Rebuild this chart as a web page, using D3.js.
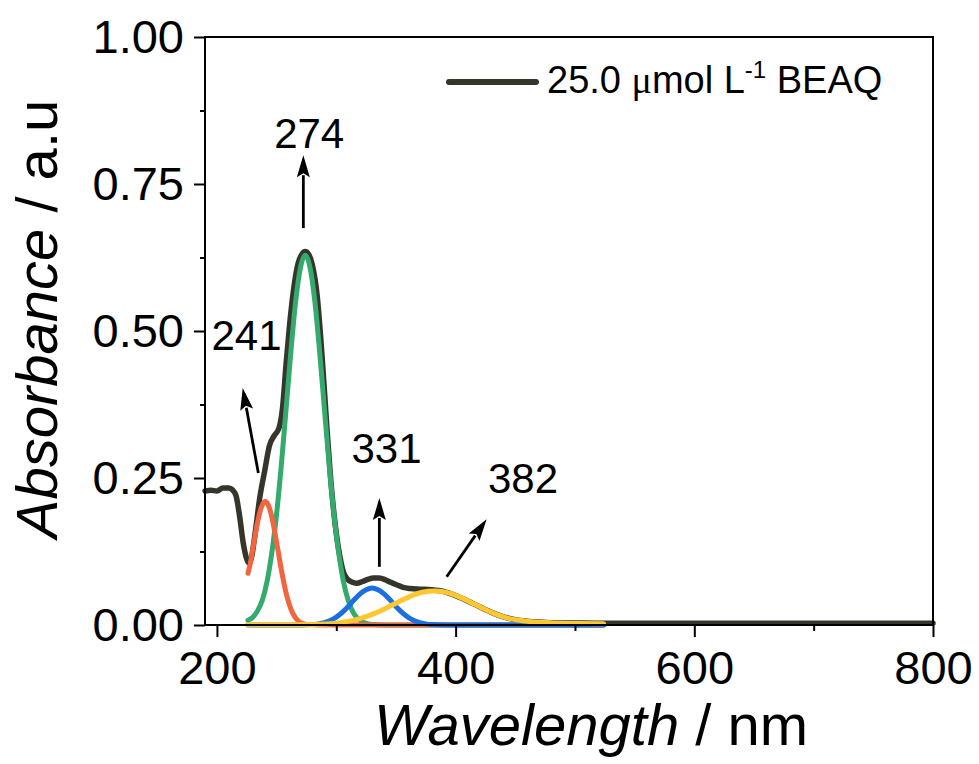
<!DOCTYPE html>
<html>
<head>
<meta charset="utf-8">
<script src="https://cdn.jsdelivr.net/npm/d3@7"></script>
<style>
  html, body { margin: 0; padding: 0; background: #fff; }
  svg { display: block; font-family: "Liberation Sans", Arial, sans-serif; }
</style>
</head>
<body>
<svg id="chart" width="979" height="764"></svg>
<script>
// Measured UV-Vis spectrum of BEAQ: [wavelength nm, absorbance]
const spectrum = [
  [190, 0.228], [195, 0.229], [200, 0.228], [205, 0.233], [210, 0.233],
  [213, 0.230], [216, 0.220], [219, 0.185], [222, 0.140], [225, 0.112],
  [227, 0.105], [229, 0.115], [232, 0.156], [236, 0.218], [240, 0.262],
  [244, 0.305], [248, 0.322], [252, 0.335], [255, 0.370], [258, 0.445],
  [261, 0.513], [265, 0.582], [268, 0.615], [271, 0.630], [274, 0.635],
  [277, 0.630], [280, 0.612], [284, 0.560], [288, 0.460], [292, 0.340],
  [296, 0.232], [300, 0.156], [303, 0.117], [306, 0.090], [309, 0.079],
  [313, 0.073], [317, 0.071], [322, 0.074], [327, 0.078], [331, 0.080],
  [336, 0.080], [341, 0.077], [345, 0.073], [350, 0.069], [356, 0.064],
  [362, 0.062], [370, 0.061], [380, 0.060], [390, 0.057], [400, 0.050],
  [410, 0.041], [420, 0.031], [430, 0.0215], [440, 0.014], [450, 0.009],
  [460, 0.0065], [470, 0.005], [480, 0.004], [500, 0.0035], [525, 0.003],
  [600, 0.003], [700, 0.003], [800, 0.003]
];

// Fitted band at 241 nm
const band241 = [
  [226, 0.088], [228, 0.105], [230, 0.129], [232, 0.152], [234, 0.174],
  [236, 0.192], [238, 0.204], [240.5, 0.210], [243, 0.204], [245, 0.192],
  [247, 0.174], [249, 0.152], [251, 0.129], [253, 0.105], [255, 0.083],
  [257, 0.063], [259, 0.046], [262, 0.027], [265, 0.0146], [268, 0.0073],
  [272, 0.0026], [276, 0.0008], [285, 0.0001], [524, 0.0]
];

// Fitted band at 274 nm
const band274 = [
  [226, 0.008], [230, 0.013], [234, 0.024], [238, 0.042], [242, 0.074],
  [246, 0.123], [250, 0.189], [254, 0.273], [258, 0.369], [262, 0.466],
  [266, 0.551], [270, 0.608], [274, 0.629], [278, 0.608], [282, 0.551],
  [286, 0.466], [290, 0.369], [294, 0.273], [298, 0.189], [302, 0.123],
  [306, 0.074], [310, 0.042], [314, 0.022], [318, 0.011], [322, 0.0052],
  [326, 0.0023], [330, 0.001], [340, 0.0002], [524, 0.0]
];

// Fitted band at 331 nm
const band331 = [
  [226, 0.0], [270, 0.0002], [280, 0.0008], [285, 0.0019], [290, 0.0039],
  [295, 0.0076], [300, 0.0133], [305, 0.0214], [310, 0.0315], [315, 0.043],
  [320, 0.053], [325, 0.060], [330, 0.063], [335, 0.060], [340, 0.053],
  [345, 0.043], [350, 0.0315], [355, 0.0214], [360, 0.0133], [365, 0.0076],
  [370, 0.0039], [375, 0.0019], [380, 0.0008], [390, 0.0002], [524, 0.0]
];

// Fitted band at 382 nm
const band382 = [
  [226, 0.0005], [262, 0.0005], [282, 0.0008], [292, 0.0017], [302, 0.0036],
  [312, 0.007], [322, 0.0122], [332, 0.0197], [342, 0.029], [352, 0.0393],
  [362, 0.0488], [372, 0.0556], [382, 0.058], [392, 0.0556], [402, 0.0488],
  [412, 0.0393], [422, 0.029], [432, 0.0197], [442, 0.0125], [452, 0.0085],
  [462, 0.006], [472, 0.0045], [482, 0.0035], [502, 0.0025], [524, 0.002]
];

const xMajorTicks = [200, 400, 600, 800];
const xMinorTicks = [300, 500, 700];
const yMajorTicks = [0, 0.25, 0.5, 0.75, 1.0];
const yMinorTicks = [0.125, 0.375, 0.625, 0.875];

const peakLabels = ["241", "274", "331", "382"];

// ---- layout ----
const svg = d3.select("#chart");
const margin = { left: 205, top: 37, right: 46, bottom: 139 };
const W = 979, H = 764;
const innerW = W - margin.left - margin.right;
const innerH = H - margin.top - margin.bottom;

const x = d3.scaleLinear().domain([190, 800]).range([0, innerW]);
const y = d3.scaleLinear().domain([0, 1]).range([innerH, 0]);

const g = svg.append("g").attr("transform", `translate(${margin.left},${margin.top})`);

const colors = {
  spectrum: "#35352c",
  b241: "#f2653f",
  b274: "#34aa6c",
  b331: "#1c6fe2",
  b382: "#fdc72f"
};

const line = d3.line()
  .x(d => x(d[0]))
  .y(d => y(d[1]))
  .curve(d3.curveMonotoneX);

// ---- curves ----
g.append("path").datum(spectrum)
  .attr("d", line).attr("fill", "none")
  .attr("stroke", colors.spectrum).attr("stroke-width", 5.5)
  .attr("stroke-linejoin", "round").attr("stroke-linecap", "round");

[[band274, colors.b274], [band241, colors.b241], [band331, colors.b331], [band382, colors.b382]]
  .forEach(([data, c]) => {
    g.append("path").datum(data)
      .attr("d", line).attr("fill", "none")
      .attr("stroke", c).attr("stroke-width", 5)
      .attr("stroke-linejoin", "round").attr("stroke-linecap", "round");
  });

// ---- axes ----
const tickFont = 47;
const axisStroke = 2;

function styleAxis(sel) {
  sel.select(".domain").remove();
  sel.selectAll(".tick line").attr("stroke", "#000").attr("stroke-width", axisStroke);
  sel.selectAll(".tick text")
    .attr("fill", "#000")
    .style("font-size", tickFont + "px")
    .style("font-family", "'Liberation Sans', Arial, sans-serif");
}

const xAxis = g.append("g").attr("transform", `translate(0,${innerH})`)
  .call(d3.axisBottom(x).tickValues(xMajorTicks).tickSize(12).tickPadding(14).tickFormat(d3.format("d")));
styleAxis(xAxis);

g.append("g").attr("transform", `translate(0,${innerH})`)
  .call(d3.axisBottom(x).tickValues(xMinorTicks).tickSize(6).tickFormat(""))
  .call(s => { s.select(".domain").remove(); s.selectAll(".tick line").attr("stroke", "#000").attr("stroke-width", axisStroke); });

const yAxis = g.append("g")
  .call(d3.axisLeft(y).tickValues(yMajorTicks).tickSize(11).tickPadding(10).tickFormat(d3.format(".2f")));
styleAxis(yAxis);

g.append("g")
  .call(d3.axisLeft(y).tickValues(yMinorTicks).tickSize(5).tickFormat(""))
  .call(s => { s.select(".domain").remove(); s.selectAll(".tick line").attr("stroke", "#000").attr("stroke-width", axisStroke); });

// frame
g.append("rect")
  .attr("x", 0).attr("y", 0).attr("width", innerW).attr("height", innerH)
  .attr("fill", "none").attr("stroke", "#000").attr("stroke-width", axisStroke);

// ---- axis titles ----
const titleFont = 58;
const xt = svg.append("text")
  .attr("x", 591)
  .attr("y", 745)
  .attr("text-anchor", "middle")
  .style("font-size", titleFont + "px")
  .attr("fill", "#000");
xt.append("tspan").style("font-style", "italic").text("Wavelength");
xt.append("tspan").text(" / nm");

const yt = svg.append("text")
  .attr("transform", `translate(57,319) rotate(-90)`)
  .attr("text-anchor", "middle")
  .style("font-size", titleFont + "px")
  .attr("fill", "#000");
yt.append("tspan").style("font-style", "italic").text("Absorbance");
yt.append("tspan").text(" / a.u");

// ---- legend ----
const legendG = svg.append("g");
legendG.append("line")
  .attr("x1", 449).attr("x2", 536).attr("y1", 82).attr("y2", 82)
  .attr("stroke", colors.spectrum).attr("stroke-width", 6).attr("stroke-linecap", "round");
const lt = legendG.append("text")
  .attr("x", 547).attr("y", 93)
  .style("font-size", "38px").attr("fill", "#000");
lt.append("tspan").text("25.0 ");
lt.append("tspan").style("font-family", "'Liberation Serif', 'Times New Roman', serif").text("\u03BC");
lt.append("tspan").text("mol L");
lt.append("tspan").attr("dy", -15).style("font-size", "24px").text("-1");
lt.append("tspan").attr("dy", 15).text(" BEAQ");

// ---- peak annotations (positions in data units) ----
const annotations = [
  { label: peakLabels[0], lx: 224.8, ly: 0.468, from: [234.7, 0.2585], to: [221.6, 0.403] },
  { label: peakLabels[1], lx: 277.3, ly: 0.811, from: [272.4, 0.675], to: [272.4, 0.799] },
  { label: peakLabels[2], lx: 342.1, ly: 0.2755, from: [336.1, 0.099], to: [336.1, 0.216] },
  { label: peakLabels[3], lx: 456.5, ly: 0.2245, from: [392.5, 0.082], to: [426.0, 0.180] }
];

const headLen = 22, headHalf = 6.5;
annotations.forEach(a => {
  const x0 = x(a.from[0]), y0 = y(a.from[1]);
  const x1 = x(a.to[0]), y1 = y(a.to[1]);
  const dx = x1 - x0, dy = y1 - y0, len = Math.hypot(dx, dy);
  const ux = dx / len, uy = dy / len;
  const bx = x1 - ux * headLen, by = y1 - uy * headLen;
  g.append("line")
    .attr("x1", x0).attr("y1", y0).attr("x2", bx + ux * 2).attr("y2", by + uy * 2)
    .attr("stroke", "#000").attr("stroke-width", 2.8);
  g.append("path")
    .attr("d", `M${x1},${y1}L${bx - uy * headHalf},${by + ux * headHalf}L${bx + ux * 4},${by + uy * 4}L${bx + uy * headHalf},${by - ux * headHalf}Z`)
    .attr("fill", "#000");
  g.append("text")
    .attr("x", x(a.lx)).attr("y", y(a.ly))
    .attr("text-anchor", "middle")
    .style("font-size", "42px").attr("fill", "#000")
    .text(a.label);
});
</script>
</body>
</html>
